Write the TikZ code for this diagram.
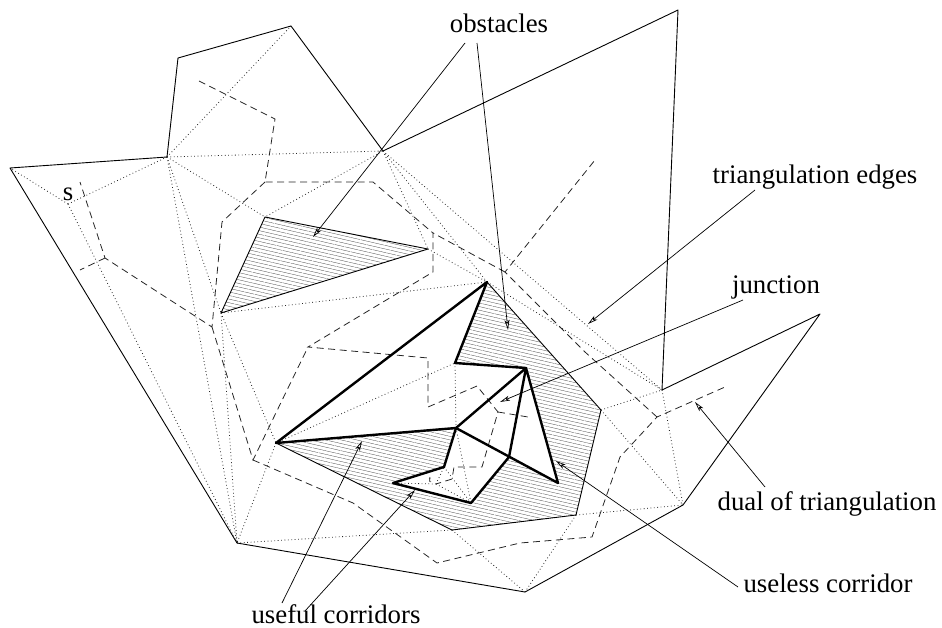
\documentclass[tikz,border=0pt]{standalone}
\usepackage{fontspec}
\setmainfont{Liberation Serif}
\usetikzlibrary{arrows.meta,patterns.meta}
\tikzset{
    wall/.style = {draw=black, line width=0.9pt, line join=round},
    tri-edge/.style = {draw=black!85, line width=0.8pt, dash pattern=on 0.8pt off 2.6pt},
    dual-edge/.style = {draw=black!85, line width=0.8pt, dash pattern=on 7pt off 4.5pt},
    corridor/.style = {draw=black, line width=2.4pt, line join=round, line cap=round},
    obstacle/.style = {pattern={Lines[angle=-13, distance=3.5pt, line width=0.3pt]}, pattern color=black!75},
    pointer/.style = {draw=black, line width=0.7pt, -{Stealth[open, length=10pt, width=5pt, inset=2.5pt]}},
    label-text/.style = {font=\fontsize{26.8}{30}\selectfont, inner sep=0pt, anchor=base},
}
\begin{document}
\begin{tikzpicture}[x=1pt, y=-1pt]
\useasboundingbox (0,0) rectangle (942,627);
\coordinate (o1) at (10,168);
\coordinate (o2) at (167,157);
\coordinate (o3) at (178,58);
\coordinate (o4) at (291,26);
\coordinate (o5) at (383,151);
\coordinate (o6) at (678,10);
\coordinate (o7) at (662,390);
\coordinate (o8) at (820,314);
\coordinate (o9) at (683,505);
\coordinate (o10) at (525,592);
\coordinate (o11) at (237,543);
\coordinate (a1) at (265,217);
\coordinate (a2) at (428,249);
\coordinate (a3) at (221,313);
\coordinate (b1) at (487,282);
\coordinate (b2) at (601,410);
\coordinate (b3) at (576,515);
\coordinate (b4) at (452,530);
\coordinate (b5) at (276,443);
\coordinate (b6) at (456,428);
\coordinate (b7) at (444,467);
\coordinate (b8) at (393,483);
\coordinate (b9) at (471,503);
\coordinate (b10) at (509,457);
\coordinate (b11) at (558,483);
\coordinate (b12) at (526,368);
\coordinate (b13) at (455,363);
\coordinate (s) at (68,204);
\coordinate (t) at (436,484);

\coordinate (d1) at (199,81);
\coordinate (d2) at (275,119);
\coordinate (d3) at (265,182);
\coordinate (d4) at (373,182);
\coordinate (d5) at (433,233);
\coordinate (d6) at (433,272);
\coordinate (d7) at (308,347);
\coordinate (d8) at (428,358);
\coordinate (d9) at (428,407);
\coordinate (d10) at (477,386);
\coordinate (j) at (498,412);
\coordinate (d11) at (528,417);
\coordinate (d12) at (482,467);
\coordinate (d13) at (454,467);
\coordinate (d14) at (452,479);
\coordinate (d15) at (222,222);
\coordinate (d16) at (212,327);
\coordinate (d17) at (105,258);
\coordinate (d18) at (80,182);
\coordinate (d19) at (80,270);
\coordinate (d20) at (253,460);
\coordinate (d21) at (353,503);
\coordinate (d22) at (437,563);
\coordinate (d23) at (520,543);
\coordinate (d24) at (592,537);
\coordinate (d25) at (620,457);
\coordinate (d26) at (657,417);
\coordinate (d27) at (725,387);
\coordinate (d28) at (585,352);
\coordinate (d29) at (505,272);
\coordinate (d30) at (595,160);

\fill[obstacle] (a1) -- (a2) -- (a3) -- cycle;
\fill[obstacle] (b1) -- (b2) -- (b3) -- (b4) -- (b5) -- (b6) -- (b7) -- (b8) -- (b9) -- (b10) -- (b11) -- (b12) -- (b13) -- cycle;

\draw[tri-edge] (s) -- (o1) (s) -- (o2) (s) -- (o11) (o2) -- (o4) (o2) -- (o5) (o2) -- (a1)
    (o5) -- (a1) (o2) -- (a3) (o2) -- (o11) (a3) -- (o11) (a3) -- (b5) (b5) -- (o11)
    (o11) -- (b4) (b5) -- (b13) (a3) -- (b1) (a2) -- (b1) (o5) -- (a2) (o5) -- (b1)
    (o5) -- (o7) (b1) -- (o7) (b2) -- (o7) (b2) -- (o9) (o7) -- (o9) (b3) -- (o9)
    (b3) -- (o10) (b4) -- (o10) (b13) -- (b6) (b6) -- (b9) (b7) -- (b9)
    (t) -- (b7) (t) -- (b8) (t) -- (b9);

\draw[dual-edge] (d1) -- (d2) -- (d3) -- (d4) -- (d5) -- (d6) -- (d7) -- (d8) -- (d9) -- (d10) -- (j) -- (d12) -- (d13) -- (d14) -- (t);
\draw[dual-edge] (j) -- (d11);
\draw[dual-edge] (d3) -- (d15) -- (d16) -- (d17) -- (d18);
\draw[dual-edge] (d17) -- (d19);
\draw[dual-edge] (d16) -- (d20) -- (d7);
\draw[dual-edge] (d20) -- (d21) -- (d22) -- (d23) -- (d24) -- (d25) -- (d26) -- (d27);
\draw[dual-edge] (d26) -- (d28) -- (d29) -- (d30);
\draw[dual-edge] (d29) -- (d5);

\draw[wall] (o1) -- (o2) -- (o3) -- (o4) -- (o5) -- (o6) -- (o7) -- (o8) -- (o9) -- (o10) -- (o11) -- cycle;
\draw[wall] (a1) -- (a2) -- (a3) -- cycle;
\draw[wall] (b1) -- (b2) -- (b3) -- (b4) -- (b5);

\draw[corridor] (b5) -- (b1) -- (b13) -- (b12) -- (b6) -- (b5);
\draw[corridor] (b6) -- (b7) -- (b8) -- (b9) -- (b10) -- (b12) -- (b11) -- (b6);

\node[label-text] (s-label) at (68,200) {s};
\node[font=\fontsize{9}{10}\selectfont, inner sep=0pt, anchor=base] (t-label) at (430,482) {t};

\node[label-text] (obstacles) at (499,32) {obstacles};
\node[label-text] (tri-label) at (815,183) {triangulation edges};
\node[label-text] (junction) at (776,293) {junction};
\node[label-text] (dual-label) at (827,510) {dual of triangulation};
\node[label-text] (useless) at (828,592) {useless corridor};
\node[label-text] (useful) at (336,623) {useful corridors};

\coordinate (obs-tail-1) at (465,43);
\coordinate (obs-tip-1) at (313,237);
\coordinate (obs-tail-2) at (477,43);
\coordinate (obs-tip-2) at (508,330);
\coordinate (tri-tail) at (755,190);
\coordinate (tri-tip) at (588,324);
\coordinate (junc-tail) at (743,300);
\coordinate (junc-tip) at (500,402);
\coordinate (dual-tail) at (765,487);
\coordinate (dual-tip) at (695,402);
\coordinate (useless-tail) at (738,587);
\coordinate (useless-tip) at (556,461);
\coordinate (useful-tail-1) at (282,603);
\coordinate (useful-tip-1) at (362,441);
\coordinate (useful-tail-2) at (305,611);
\coordinate (useful-tip-2) at (415,490);

\draw[pointer] (obs-tail-1) -- (obs-tip-1);
\draw[pointer] (obs-tail-2) -- (obs-tip-2);
\draw[pointer] (tri-tail) -- (tri-tip);
\draw[pointer] (junc-tail) -- (junc-tip);
\draw[pointer] (dual-tail) -- (dual-tip);
\draw[pointer] (useless-tail) -- (useless-tip);
\draw[pointer] (useful-tail-1) -- (useful-tip-1);
\draw[pointer] (useful-tail-2) -- (useful-tip-2);
\end{tikzpicture}
\end{document}
